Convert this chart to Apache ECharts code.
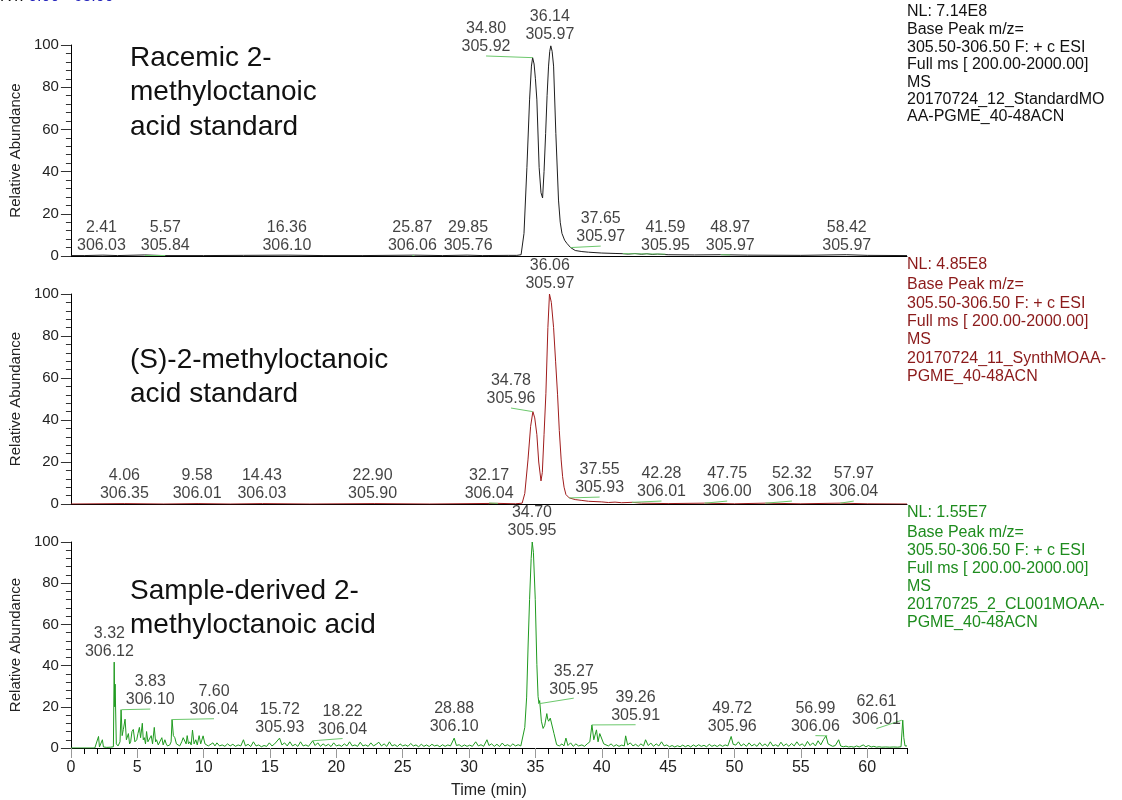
<!DOCTYPE html>
<html><head><meta charset="utf-8">
<script src="https://cdn.jsdelivr.net/npm/echarts@6/dist/echarts.min.js"></script>
<style>html,body{margin:0;padding:0;background:#fff}#c{width:1122px;height:800px}</style>
</head><body><div id="c"></div>
<script>
// ---------- DATA ----------
const timeRange = [0, 63];
const xTickLabels = [0, 5, 10, 15, 20, 25, 30, 35, 40, 45, 50, 55, 60];
const yTickLabels = [0, 20, 40, 60, 80, 100];

// Panel 1: racemic standard  [time (min), relative abundance]
const racemicTrace = [[0,0.2],[1,0.2],[2.41,0.4],[3.5,0.2],[5.57,0.5],[7,0.2],[10,0.2],[13,0.3],[16.36,0.4],[19,0.2],[22,0.2],[25.87,0.4],[28,0.2],[29.85,0.4],[31,0.2],[33,0.3],[33.6,0.3],[33.92,0.6],[34.14,10.7],[34.36,42],[34.56,74],[34.7,90],[34.79,94],[34.9,91],[35.0,84],[35.11,74],[35.28,42],[35.42,30],[35.54,27.5],[35.65,40],[35.77,58],[35.88,76],[35.99,90],[36.08,97],[36.16,99.6],[36.26,97],[36.37,90],[36.54,58],[36.74,26.5],[36.87,16],[37.0,10.7],[37.2,7.5],[37.37,6],[37.65,4],[38,2.6],[38.5,2.1],[39,1.8],[40,1.4],[41,1.2],[41.59,1.1],[42,0.9],[42.5,1.2],[43,0.8],[43.4,1.1],[43.8,0.7],[44.2,0.9],[45,0.6],[47,0.5],[48.97,0.6],[51,0.4],[55,0.3],[58.42,0.6],[60,0.3],[63,0.2]];
// [RT, m/z, peak height]
const racemicPeaks = [[2.41,'306.03',0.4],[5.57,'305.84',0.5],[16.36,'306.10',0.4],[25.87,'306.06',0.4],[29.85,'305.76',0.4],[34.80,'305.92',94],[36.14,'305.97',100],[37.65,'305.97',4],[41.59,'305.95',1.1],[48.97,'305.97',0.6],[58.42,'305.97',0.6]];

// Panel 2: (S) standard
const sTrace = [[0,0],[4.06,0.2],[7,0],[9.58,0.2],[12,0],[14.43,0.2],[18,0],[22.9,0.2],[27,0],[32.17,0.3],[33.5,0.1],[34.0,0.4],[34.2,5],[34.44,21],[34.64,37],[34.81,44],[34.95,41],[35.11,33],[35.25,20],[35.42,11],[35.52,15],[35.65,33],[35.79,52.7],[35.94,84],[36.06,100],[36.2,96],[36.37,84],[36.52,68],[36.67,52],[36.8,35],[36.94,21],[37.05,13],[37.16,8],[37.3,4.5],[37.55,2.9],[38,2.1],[38.5,1.7],[39,1.3],[40,1.0],[40.5,0.7],[41,0.9],[41.5,0.6],[42.28,0.8],[43,0.4],[45,0.2],[47.75,0.4],[50,0.1],[52.32,0.4],[55,0.1],[57.97,0.4],[60,0.1],[63,0]];
const sPeaks = [[4.06,'306.35',0.2],[9.58,'306.01',0.2],[14.43,'306.03',0.2],[22.90,'305.90',0.2],[32.17,'306.04',0.3],[34.78,'305.96',44],[36.06,'305.97',100],[37.55,'305.93',2.9],[42.28,'306.01',0.8],[47.75,'306.00',0.4],[52.32,'306.18',0.4],[57.97,'306.04',0.4]];

// Panel 3: sample-derived
const sampleTrace = [[0,0],[1.8,0],[1.95,0.3],[2.08,5.6],[2.15,0.5],[2.25,0.8],[2.37,4],[2.45,0.5],[2.7,0.3],[3.0,0.4],[3.2,0.6],[3.26,41.7],[3.3,20],[3.33,31],[3.42,2],[3.55,1],[3.7,3],[3.78,18.6],[3.86,6],[3.95,9],[4.08,14],[4.18,4],[4.33,7],[4.42,2],[4.5,3],[4.6,8],[4.7,9],[4.82,3],[4.96,4],[5.05,7],[5.16,10],[5.25,5],[5.38,12],[5.45,4],[5.53,5],[5.62,2],[5.7,8],[5.8,3],[5.95,3],[6.05,6],[6.15,2],[6.28,10],[6.38,3],[6.45,4],[6.58,1.5],[6.7,2],[6.85,5],[6.95,1.5],[7.08,4],[7.18,2],[7.28,1],[7.45,1.5],[7.55,3],[7.62,13.8],[7.72,6],[7.83,5],[7.95,2],[8.08,2],[8.2,1],[8.35,3],[8.46,5],[8.59,5.9],[8.68,2],[8.76,6],[8.86,2],[8.96,3],[9.06,1.5],[9.16,8.7],[9.28,2],[9.41,4],[9.52,1.5],[9.66,6],[9.78,2],[9.96,5.9],[10.1,2],[10.2,2],[10.35,1],[10.5,1.5],[10.7,2.5],[10.85,1],[11.0,2.5],[11.2,1],[11.4,1.5],[11.6,0.8],[11.8,2],[12.0,1],[12.2,1.8],[12.4,0.8],[12.6,1.5],[12.8,1],[13.0,4],[13.15,1],[13.35,1.8],[13.55,0.7],[13.75,3],[13.95,1],[14.15,1.5],[14.35,0.6],[14.55,1.2],[14.75,0.8],[14.95,2.5],[15.15,1],[15.35,2],[15.5,1.2],[15.72,4.8],[15.9,1.5],[16.1,2.5],[16.3,1],[16.5,3],[16.7,1],[16.9,1.8],[17.1,0.8],[17.3,3],[17.5,1],[17.7,1.5],[17.9,0.8],[18.22,3.5],[18.4,1.2],[18.6,2.5],[18.8,0.8],[19.0,2],[19.2,1],[19.4,1.8],[19.6,0.7],[19.8,2.5],[20.0,1],[20.2,1.5],[20.4,0.8],[20.6,2],[20.8,1],[21.0,3],[21.2,1],[21.4,1.5],[21.6,0.8],[21.8,2.8],[22.0,1],[22.2,1.5],[22.4,0.8],[22.6,2.5],[22.8,1],[23.0,1.8],[23.2,2.8],[23.4,1],[23.6,2],[23.8,0.8],[24.0,3],[24.2,1],[24.4,1.6],[24.6,0.7],[24.8,2],[25.0,1],[25.2,1.5],[25.4,0.8],[25.6,2.2],[25.8,1],[26.0,1.5],[26.2,0.6],[26.4,1.8],[26.6,0.8],[26.8,1.5],[27.0,0.7],[27.2,1.8],[27.4,1],[27.6,1.4],[27.8,0.6],[28.0,1.6],[28.2,0.8],[28.4,1.5],[28.6,1],[28.88,4.8],[29.05,1.2],[29.25,1.6],[29.45,0.7],[29.65,1.5],[29.85,0.8],[30.05,1.4],[30.25,0.8],[30.5,3],[30.7,1],[30.9,1.6],[31.1,0.8],[31.35,4],[31.5,1.2],[31.7,2],[31.9,0.8],[32.1,1.8],[32.3,0.7],[32.5,2.4],[32.7,1],[32.9,1.6],[33.1,0.8],[33.3,2],[33.5,1],[33.7,1.6],[33.9,1],[34.04,1.5],[34.2,10],[34.34,24.7],[34.45,50],[34.56,72],[34.68,92],[34.76,100],[34.85,95],[34.99,72],[35.11,40.5],[35.2,25],[35.27,21.5],[35.32,23],[35.45,13],[35.58,9.5],[35.7,11],[35.86,16.7],[35.93,14],[36.0,13],[36.12,14.5],[36.24,14],[36.4,7],[36.6,1.6],[36.8,1],[37.0,2],[37.15,1],[37.3,4.8],[37.45,1.2],[37.65,2.5],[37.85,0.8],[38.05,2],[38.25,1],[38.5,1.5],[38.7,0.8],[38.9,2],[39.1,3],[39.26,11.2],[39.4,4],[39.6,8.8],[39.72,3],[39.85,7],[40.0,6.9],[40.15,2],[40.3,2],[40.5,1],[40.7,2],[40.9,0.8],[41.1,1.6],[41.3,0.8],[41.5,1.4],[41.7,1],[41.8,5.9],[41.95,1.5],[42.15,2.5],[42.35,1],[42.55,1.8],[42.75,0.8],[42.95,2],[43.15,1],[43.3,4],[43.5,1.2],[43.7,2.4],[43.9,0.8],[44.1,2],[44.3,1],[44.5,3],[44.7,1],[44.9,1.5],[45.1,0.6],[45.3,1.2],[45.5,0.5],[45.7,1.1],[45.9,0.6],[46.1,1.4],[46.3,0.6],[46.5,1.3],[46.7,0.5],[46.9,1.5],[47.1,0.7],[47.3,1.6],[47.5,0.8],[47.7,1.3],[47.9,0.6],[48.1,1.8],[48.3,0.8],[48.5,1.4],[48.7,0.7],[48.9,1.6],[49.1,0.8],[49.3,1.5],[49.5,1],[49.75,5.6],[49.9,1.8],[50.1,1.4],[50.3,3],[50.5,1],[50.7,2],[50.9,0.8],[51.1,2.5],[51.3,1],[51.5,1.8],[51.7,0.8],[51.9,2.6],[52.1,1],[52.3,2],[52.5,0.8],[52.7,3],[52.9,1],[53.1,1.6],[53.3,0.8],[53.5,2.8],[53.7,1],[53.9,2],[54.1,0.8],[54.3,2.2],[54.5,1],[54.7,3],[54.9,1.2],[55.1,2],[55.3,0.8],[55.5,3.2],[55.7,1.2],[55.9,2.5],[56.1,1],[56.3,3.5],[56.5,1.5],[56.7,4],[56.9,5.9],[57.05,2],[57.2,1.5],[57.4,0.8],[57.6,1.2],[57.85,4],[58.0,1],[58.2,0.6],[58.4,0.9],[58.6,0.5],[58.8,0.7],[59.0,0.4],[59.2,1],[59.4,0.5],[59.7,1.5],[59.9,0.6],[60.1,1.2],[60.3,0.5],[60.5,0.8],[60.7,0.4],[60.9,0.6],[61.1,0.4],[61.4,0.5],[61.7,0.4],[62.0,0.5],[62.3,0.4],[62.55,0.6],[62.68,13.5],[62.76,5],[62.85,1],[63,1]];
const samplePeaks = [[3.32,'306.12',41.7],[3.83,'306.10',18.6],[7.60,'306.04',13.8],[15.72,'305.93',4.8],[18.22,'306.04',3.5],[28.88,'306.10',4.8],[34.70,'305.95',100],[35.27,'305.95',21.5],[39.26,'305.91',11.2],[49.72,'305.96',5.6],[56.99,'306.06',5.9],[62.61,'306.01',13.5]];

// ---------- LAYOUT (label anchors in data units: [time, abundance, draw leader]) ----------
const racemicLabelAt = [[2.30,0.5,0],[7.11,0.5,1],[16.27,0.5,0],[25.73,0.5,1],[29.93,0.5,0],[31.28,94.8,1],[36.09,100.5,0],[39.92,4.7,1],[44.8,0.9,1],[49.68,0.5,1],[58.46,0.8,0]];
const sLabelAt = [[4.03,0.9,0],[9.51,0.9,0],[14.39,0.9,0],[22.73,0.9,0],[31.51,0.5,1],[33.16,45.7,1],[36.09,100.5,0],[39.84,3.3,1],[44.5,1.4,1],[49.45,1.4,1],[54.33,1.4,1],[58.99,1.4,1]];
const sampleLabelAt = [[2.90,42.3,0],[5.98,18.9,1],[10.78,14.2,1],[15.74,5.6,0],[20.47,4.6,1],[28.88,6,0],[34.74,101,0],[37.89,24.2,1],[42.55,11.3,1],[49.83,6,0],[56.1,6,1],[60.7,9.4,1]];

const panels = [
  {trace: racemicTrace, peaks: racemicPeaks, labelAt: racemicLabelAt, color: '#1e1e1e', top: 45, height: 211},
  {trace: sTrace, peaks: sPeaks, labelAt: sLabelAt, color: '#a01c1c', top: 294, height: 210},
  {trace: sampleTrace, peaks: samplePeaks, labelAt: sampleLabelAt, color: '#1f9a1f', top: 542, height: 210}
];

const FONT = '"Liberation Sans", Arial, sans-serif';
const leaderColor = '#6cc86c';

const grid = panels.map(p => ({left: 67, width: 840, top: p.top, height: p.height}));

const xAxis = [];
const yAxis = [];
panels.forEach((p, i) => {
  xAxis.push({
    type: 'value', gridIndex: i, position: 'bottom', min: timeRange[0], max: timeRange[1], interval: 1,
    axisLine: {show: true, onZero: false, lineStyle: {color: '#000', width: 1}},
    axisTick: {show: i === 2, length: 6, lineStyle: {color: '#000'}},
    axisLabel: {show: false}, splitLine: {show: false}
  });
  yAxis.push({
    type: 'value', gridIndex: i, min: 0, max: 100, interval: 20,
    axisLine: {show: true, lineStyle: {color: '#000', width: 1}},
    axisTick: {show: true, length: 10, lineStyle: {color: '#333'}},
    minorTick: {show: true, splitNumber: 5, length: 5, lineStyle: {color: '#333'}},
    axisLabel: {fontSize: 15, color: '#222', margin: 12, fontFamily: FONT},
    splitLine: {show: false}, minorSplitLine: {show: false},
    name: 'Relative Abundance', nameLocation: 'middle', nameGap: 42, nameRotate: 90,
    nameTextStyle: {fontSize: 15, color: '#222', fontFamily: FONT}
  });
});
// major ticks + labels for bottom time axis
xAxis.push({
  type: 'value', gridIndex: 2, position: 'bottom', offset: 0, min: timeRange[0], max: timeRange[1], interval: 5,
  axisLine: {show: false, onZero: false},
  axisTick: {show: true, length: 10, lineStyle: {color: '#999'}, customValues: xTickLabels},
  axisLabel: {show: true, fontSize: 16, color: '#222', margin: 12, fontFamily: FONT, customValues: xTickLabels},
  splitLine: {show: false},
  name: 'Time (min)', nameLocation: 'middle', nameGap: 35,
  nameTextStyle: {fontSize: 16, color: '#222', fontFamily: FONT}
});

const series = [];
panels.forEach((p, i) => {
  series.push({
    type: 'line', xAxisIndex: i, yAxisIndex: i, data: p.trace,
    showSymbol: false, symbol: 'none', lineStyle: {color: p.color, width: 1},
    itemStyle: {color: p.color}, animation: false, z: 3, silent: true
  });
  const labelData = p.peaks.map((pk, k) => ({
    name: pk[0].toFixed(2) + '\n' + pk[1],
    value: [p.labelAt[k][0], p.labelAt[k][1]]
  }));
  const leaders = [];
  p.peaks.forEach((pk, k) => {
    if (p.labelAt[k][2]) leaders.push([{coord: [pk[0], pk[2]]}, {coord: [p.labelAt[k][0], p.labelAt[k][1]]}]);
  });
  series.push({
    type: 'scatter', xAxisIndex: i, yAxisIndex: i, data: labelData,
    symbolSize: 0, clip: false, animation: false, silent: true, z: 5,
    label: {show: true, position: 'top', distance: 0, formatter: '{b}',
      fontSize: 16, lineHeight: 18, color: '#111', fontFamily: FONT},
    markLine: {silent: true, animation: false, symbol: ['none', 'none'],
      lineStyle: {color: leaderColor, width: 1, type: 'solid'},
      label: {show: false}, data: leaders}
  });
});

const sampleNames = [
  {text: 'Racemic 2-\nmethyloctanoic\nacid standard', top: 41},
  {text: '(S)-2-methyloctanoic\nacid standard', top: 343},
  {text: 'Sample-derived 2-\nmethyloctanoic acid', top: 574}
];
const infoBlocks = [
  {nl: 'NL: 7.14E8', nlY: 12, y: 30, lh: 17.4, color: '#111',
   text: 'Base Peak m/z=\n305.50-306.50 F: + c ESI\nFull ms [ 200.00-2000.00]\nMS\n20170724_12_StandardMO\nAA-PGME_40-48ACN'},
  {nl: 'NL: 4.85E8', nlY: 265, y: 285, lh: 18.3, color: '#8b1a1a',
   text: 'Base Peak m/z=\n305.50-306.50 F: + c ESI\nFull ms [ 200.00-2000.00]\nMS\n20170724_11_SynthMOAA-\nPGME_40-48ACN'},
  {nl: 'NL: 1.55E7', nlY: 513, y: 533, lh: 18, color: '#1e8c1e',
   text: 'Base Peak m/z=\n305.50-306.50 F: + c ESI\nFull ms [ 200.00-2000.00]\nMS\n20170725_2_CL001MOAA-\nPGME_40-48ACN'}
];

const graphic = [];
sampleNames.forEach(s => graphic.push({
  type: 'text', left: 130, top: s.top, silent: true, z: 10,
  style: {text: s.text, font: '28px ' + FONT, lineHeight: 34.5, fill: '#111'}
}));
infoBlocks.forEach(b => {
  graphic.push({type: 'text', x: 907, y: b.nlY, silent: true, z: 10,
    style: {text: b.nl, font: '16px ' + FONT, fill: b.color, verticalAlign: 'middle'}});
  graphic.push({type: 'text', x: 907, y: b.y - b.lh / 2, silent: true, z: 10,
    style: {text: b.text, font: '16px ' + FONT, fill: b.color, lineHeight: b.lh, verticalAlign: 'top'}});
});
graphic.push({type: 'text', x: 0, y: -11, silent: true,
  style: {text: '{a|RT:} {b|0.00 - 63.00}', font: '16px ' + FONT,
    rich: {a: {fill: '#111', fontSize: 16, fontFamily: FONT}, b: {fill: '#1a1ab8', fontSize: 16, fontFamily: FONT}}}});

const chart = echarts.init(document.getElementById('c'), null, {renderer: 'canvas'});
chart.setOption({
  backgroundColor: '#fff', animation: false,
  grid, xAxis, yAxis, series, graphic
});
</script></body></html>
